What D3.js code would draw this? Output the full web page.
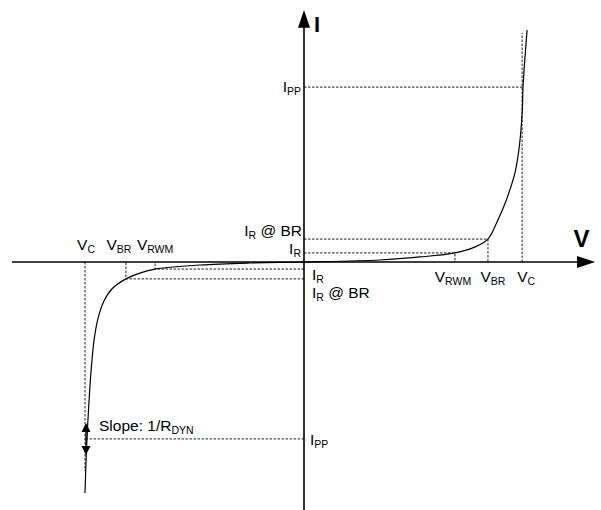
<!DOCTYPE html>
<html>
<head>
<meta charset="utf-8">
<script src="https://cdn.jsdelivr.net/npm/d3@7"></script>
<style>
  body { margin: 0; background: #fff; }
  text { font-family: "Liberation Sans", Arial, sans-serif; fill: #000; }
</style>
</head>
<body>
<div id="chart"></div>
<script>
// TVS diode I-V characteristic (arbitrary units)
const curveV = [-7.5, -7.45, -7.38, -7.29, -7.19, -7.05, -6.85, -6.58, -6.1, -5.62, -5.1, -3.56, -1.85, 0,
                2.6, 3.97, 5.17, 5.86, 6.3, 6.61, 6.85, 7.05, 7.23, 7.35, 7.43, 7.48, 7.5, 7.64]
const curveI = [-9.17, -7.46, -5.87, -4.29, -3.1, -2.22, -1.55, -1.07, -0.67, -0.44, -0.28, -0.12, -0.04, 0,
                0.08, 0.2, 0.36, 0.6, 0.91, 1.59, 2.22, 2.86, 3.57, 4.37, 5.24, 6.11, 6.94, 9.2]

// key voltages / currents, positive and negative side
const posV = {rwm: 5.17, br: 6.3, c: 7.47}
const negV = {rwm: -5.1, br: -6.1, c: -7.5}
const posI = {r: 0.36, rbr: 0.91, pp: 6.94, top: 9.09}
const negI = {r: -0.28, rbr: -0.67, pp: -7.02, bottom: -8.3}
const slopeI = [-6.39, -7.66]

const width = 601, height = 510
const x = d3.scaleLinear().domain([-10, 10]).range([12, 596])
const y = d3.scaleLinear().domain([-10, 10]).range([514, 10])

const svg = d3.select('#chart').append('svg')
    .attr('width', width)
    .attr('height', height)

// dashed guide lines
const guides = [
    [[0, posI.r], [posV.rwm, posI.r], [posV.rwm, 0]],
    [[0, posI.rbr], [posV.br, posI.rbr], [posV.br, 0]],
    [[0, posI.pp], [posV.c, posI.pp]],
    [[posV.c, 0], [posV.c, posI.top]],
    [[0, negI.r], [negV.rwm, negI.r], [negV.rwm, 0]],
    [[0, negI.rbr], [negV.br, negI.rbr], [negV.br, 0]],
    [[0, negI.pp], [negV.c, negI.pp]],
    [[negV.c, 0], [negV.c, negI.bottom]]
]
const guideLine = d3.line().x(d => x(d[0])).y(d => y(d[1]))
svg.append('g').selectAll('path')
    .data(guides)
    .enter()
    .append('path')
    .attr('d', d => guideLine(d))
    .attr('fill', 'none')
    .attr('stroke', '#222')
    .attr('stroke-width', 1)
    .attr('stroke-dasharray', '2.5,1.5')

// axes
svg.append('line')
    .attr('x1', x(-10)).attr('x2', x(9.7))
    .attr('y1', y(0)).attr('y2', y(0))
    .attr('stroke', '#000').attr('stroke-width', 1.6)
svg.append('line')
    .attr('x1', x(0)).attr('x2', x(0))
    .attr('y1', y(9.4)).attr('y2', y(-10))
    .attr('stroke', '#000').attr('stroke-width', 1.6)
svg.append('path')
    .attr('d', `M${x(9.97)},${y(0)} L${x(9.35)},${y(0) - 6} L${x(9.35)},${y(0) + 6} Z`)
    .attr('fill', '#000')
svg.append('path')
    .attr('d', `M${x(0)},${y(10)} L${x(0) - 6},${y(9.3)} L${x(0) + 6},${y(9.3)} Z`)
    .attr('fill', '#000')

svg.append('text').attr('x', x(0) + 10).attr('y', y(10) + 22)
    .attr('font-size', 22).attr('font-weight', 'bold').text('I')
svg.append('text').attr('x', x(9.5)).attr('y', y(0) - 15)
    .attr('text-anchor', 'middle')
    .attr('font-size', 24).attr('font-weight', 'bold').text('V')

// characteristic curve
const pts = curveV.map((v, i) => [v, curveI[i]])
svg.append('path')
    .attr('d', d3.line().x(d => x(d[0])).y(d => y(d[1])).curve(d3.curveCatmullRom.alpha(0.5))(pts))
    .attr('fill', 'none')
    .attr('stroke', '#000')
    .attr('stroke-width', 1.2)

// slope arrow
const sx = x(negV.c) + 1
svg.append('line')
    .attr('x1', sx).attr('x2', sx)
    .attr('y1', y(slopeI[0]) + 6).attr('y2', y(slopeI[1]) - 6)
    .attr('stroke', '#000').attr('stroke-width', 1.4)
svg.append('path')
    .attr('d', `M${sx},${y(slopeI[0])} L${sx - 4.5},${y(slopeI[0]) + 9} L${sx + 4.5},${y(slopeI[0]) + 9} Z`)
svg.append('path')
    .attr('d', `M${sx},${y(slopeI[1])} L${sx - 4.5},${y(slopeI[1]) - 9} L${sx + 4.5},${y(slopeI[1]) - 9} Z`)

// labels with subscripts
function label(px, py, main, sub, rest, anchor) {
    let t = svg.append('text')
        .attr('x', px).attr('y', py)
        .attr('font-size', 15.5)
        .attr('text-anchor', anchor || 'start')
    t.append('tspan').text(main)
    t.append('tspan').attr('dy', 3).attr('font-size', 10.5).text(sub)
    if (rest) t.append('tspan').attr('dy', -3).text(rest)
}

label(x(0) - 3, y(posI.pp) + 5, 'I', 'PP', '', 'end')
label(x(0) - 2, y(posI.rbr) - 3, 'I', 'R', ' @ BR', 'end')
label(x(0) - 3, y(posI.r) + 1, 'I', 'R', '', 'end')
label(x(0) + 8, y(negI.r) + 11, 'I', 'R', '', 'start')
label(x(0) + 8, y(negI.rbr) + 19, 'I', 'R', ' @ BR', 'start')
label(x(0) + 6, y(negI.pp) + 6, 'I', 'PP', '', 'start')

label(x(posV.rwm) - 2, y(0) + 20, 'V', 'RWM', '', 'middle')
label(x(posV.br) + 5, y(0) + 20, 'V', 'BR', '', 'middle')
label(x(posV.c) + 4, y(0) + 20, 'V', 'C', '', 'middle')
label(x(negV.c) + 1, y(0) - 12, 'V', 'C', '', 'middle')
label(x(negV.br) - 7, y(0) - 12, 'V', 'BR', '', 'middle')
label(x(negV.rwm), y(0) - 12, 'V', 'RWM', '', 'middle')

label(x(negV.c) + 14, y(slopeI[0]) + 8, 'Slope: 1/R', 'DYN', '', 'start')
</script>
</body>
</html>
